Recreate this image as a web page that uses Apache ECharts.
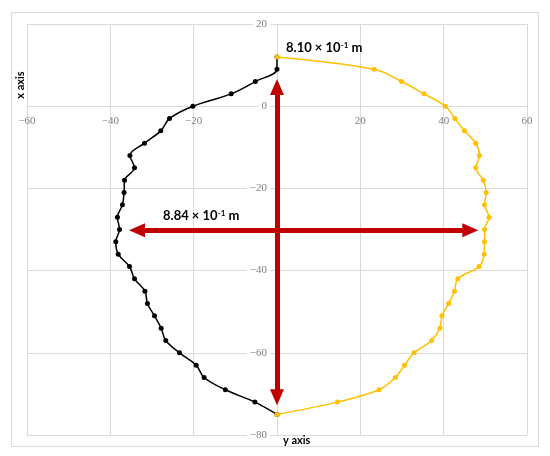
<!DOCTYPE html>
<html>
<head>
<meta charset="utf-8">
<script src="https://cdn.jsdelivr.net/npm/echarts@6/dist/echarts.min.js"></script>
<style>
html,body{margin:0;padding:0;background:#fff;}
#chart{width:550px;height:456px;}
</style>
</head>
<body>
<div id="chart"></div>
<script>
// Vertical coordinate of each measured point (shared by both halves)
const yValues = [12, 9, 6, 3, 0, -3, -6, -9, -12, -15, -18, -21, -24, -27, -30, -33, -36, -39, -42, -45, -48, -51, -54, -57, -60, -63, -66, -69, -72, -75];
// Left half (black) horizontal coordinates
const leftX = [0, 0, -5.2, -11.0, -20.2, -25.8, -27.9, -31.8, -35.3, -34.2, -36.6, -36.7, -37.1, -38.3, -37.8, -38.7, -38.1, -35.4, -34.2, -31.7, -31.1, -29.4, -27.8, -26.7, -23.4, -19.4, -17.5, -12.4, -5.3, 0];
// Right half (orange) horizontal coordinates
const rightX = [0, 23.3, 29.9, 35.3, 40.4, 42.7, 45.0, 47.7, 48.6, 47.7, 49.5, 50.2, 49.8, 50.9, 49.8, 49.8, 49.7, 48.5, 43.4, 42.6, 41.2, 39.6, 39.1, 37.1, 32.9, 30.6, 28.4, 24.5, 14.5, 0];
// Dimension arrows (end points, data coordinates)
const arrowVertical = [[0, 4.7], [0, -70.8]];
const arrowHorizontal = [[-33.6, -30.2], [46.4, -30.2]];
// Axis ranges / ticks
const xRange = [-60, 60], xStep = 20;
const yRange = [-80, 20], yStep = 20;
// Annotation texts
const labelHeight = ['8.10 × 10', '-1', ' m'];
const labelWidth = ['8.84 × 10', '-1', ' m'];
const axisNameX = 'x axis';
const axisNameY = 'y axis';

const leftData = yValues.map((y, i) => [leftX[i], y]);
const rightData = yValues.map((y, i) => [rightX[i], y]);

const GRID = {left: 27, right: 23, top: 24, bottom: 21};
const W = 550, H = 456;
const plotW = W - GRID.left - GRID.right;
const plotH = H - GRID.top - GRID.bottom;
// place each axis line where the other axis has value 0
const xAxisOffset = -plotH * (0 - yRange[0]) / (yRange[1] - yRange[0]);
const yAxisOffset = -plotW * (0 - xRange[0]) / (xRange[1] - xRange[0]);

const chart = echarts.init(document.getElementById('chart'), null, {renderer: 'canvas'});
const annoRich = {
  a: {fontFamily: 'Lato', fontWeight: 'bold', fontSize: 13, color: '#000'},
  s: {fontFamily: 'Lato', fontWeight: 'bold', fontSize: 8, color: '#000', verticalAlign: 'top'}
};
function rich(parts) { return '{a|' + parts[0] + '}{s|' + parts[1] + '}{a|' + parts[2] + '}'; }

chart.setOption({
  animation: false,
  backgroundColor: '#fff',
  grid: Object.assign({containLabel: false}, GRID),
  xAxis: {
    type: 'value', min: xRange[0], max: xRange[1], interval: xStep,
    position: 'bottom', offset: xAxisOffset,
    axisLine: {show: true, onZero: false, lineStyle: {color: '#d9d9d9', width: 1}},
    axisTick: {show: false},
    splitLine: {show: true, lineStyle: {color: '#d9d9d9', width: 1}},
    axisLabel: {
      color: '#7f7f7f', fontFamily: 'Liberation Serif', fontSize: 11, margin: 9,
      formatter: v => v === 0 ? '' : (v < 0 ? '\u2212' + Math.abs(v) : String(v))
    }
  },
  yAxis: {
    type: 'value', min: yRange[0], max: yRange[1], interval: yStep,
    position: 'left', offset: yAxisOffset,
    axisLine: {show: true, onZero: false, lineStyle: {color: '#d9d9d9', width: 1}},
    axisTick: {show: false},
    splitLine: {show: true, lineStyle: {color: '#d9d9d9', width: 1}},
    axisLabel: {
      color: '#7f7f7f', fontFamily: 'Liberation Serif', fontSize: 11, margin: 7,
      backgroundColor: '#fff', padding: [0, 3],
      formatter: v => v < 0 ? '\u2212' + Math.abs(v) : String(v)
    }
  },
  series: [
    {
      type: 'line', data: leftData, smooth: 0.35,
      symbol: 'circle', symbolSize: 5,
      lineStyle: {color: '#000', width: 1.5},
      itemStyle: {color: '#000'},
      z: 3,
      markLine: {
        silent: true, animation: false,
        symbol: ['triangle', 'triangle'], symbolSize: [14, 16],
        label: {show: false},
        lineStyle: {color: '#c00000', width: 5, type: 'solid'},
        emphasis: {disabled: true},
        data: [
          [{coord: arrowVertical[0]}, {coord: arrowVertical[1]}],
          [{coord: arrowHorizontal[0]}, {coord: arrowHorizontal[1]}]
        ]
      }
    },
    {
      type: 'line', data: rightData, smooth: 0.35,
      symbol: 'circle', symbolSize: 5,
      lineStyle: {color: '#ffc000', width: 1.5},
      itemStyle: {color: '#ffc000'},
      z: 4
    }
  ],
  graphic: [
    {type: 'rect', z: -10, silent: true, shape: {x: 11.5, y: 12.5, width: 527, height: 434},
     style: {fill: 'none', stroke: '#d9d9d9', lineWidth: 1}},
    {type: 'text', x: 286, y: 48, z: 10, silent: true,
     style: {text: rich(labelHeight), rich: annoRich, align: 'left', verticalAlign: 'middle'}},
    {type: 'text', x: 163, y: 216, z: 10, silent: true,
     style: {text: rich(labelWidth), rich: annoRich, align: 'left', verticalAlign: 'middle'}},
    {type: 'text', x: 20, y: 85, rotation: Math.PI / 2, z: 10, silent: true,
     style: {text: axisNameX, fontFamily: 'Lato', fontWeight: 'bold', fontSize: 11, fill: '#000', align: 'center', verticalAlign: 'middle'}},
    {type: 'text', x: 283, y: 440, z: 10, silent: true,
     style: {text: axisNameY, fontFamily: 'Lato', fontWeight: 'bold', fontSize: 11, fill: '#000', align: 'left', verticalAlign: 'middle'}}
  ]
});
</script>
</body>
</html>
